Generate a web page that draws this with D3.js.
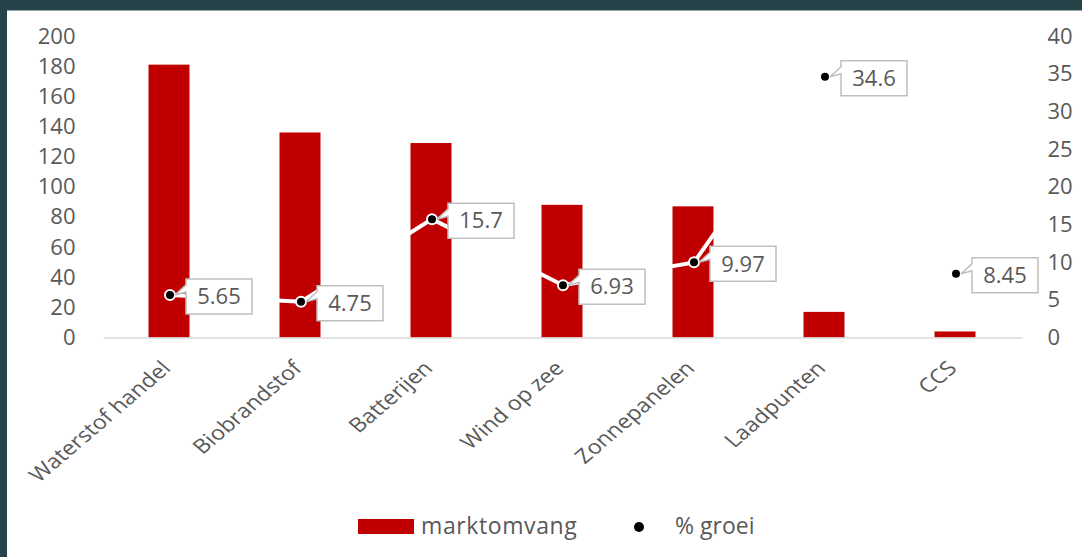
<!DOCTYPE html>
<html>
<head>
<meta charset="utf-8">
<script src="https://cdn.jsdelivr.net/npm/d3@7"></script>
<style>
  html, body { margin: 0; padding: 0; background: #ffffff; }
  svg { display: block; }
  text { font-family: "Open Sans", "DejaVu Sans", sans-serif; fill: #595959; }
</style>
</head>
<body>
<svg id="chart" width="1082" height="557"></svg>
<script>
// Market size (left axis) and growth percentage (right axis) per sector
const categories = ["Waterstof handel", "Biobrandstof", "Batterijen", "Wind op zee", "Zonnepanelen", "Laadpunten", "CCS"];
const marktomvang = [181, 136, 129, 88, 87, 17, 4];
const groei = [5.65, 4.75, 15.7, 6.93, 9.97, 34.6, 8.45];
const leftTicks = [0, 20, 40, 60, 80, 100, 120, 140, 160, 180, 200];
const rightTicks = [0, 5, 10, 15, 20, 25, 30, 35, 40];
const seriesNames = ["marktomvang", "% groei"];

const svg = d3.select("#chart");
const W = 1082, H = 557;

// Dark frame along the top and left edges
svg.append("rect").attr("x", 0).attr("y", 0).attr("width", W).attr("height", 10).attr("fill", "#26434a");
svg.append("rect").attr("x", 0).attr("y", 10).attr("width", W).attr("height", 1).attr("fill", "#8fa2a6");
svg.append("rect").attr("x", 0).attr("y", 0).attr("width", 7).attr("height", H).attr("fill", "#26434a");

const plot = { left: 103.5, right: 1020.5, top: 36, bottom: 337.5 };
const fontSize = 22;

const x = d3.scaleBand().domain(categories).range([plot.left, plot.right]).paddingInner(0).paddingOuter(0);
const yL = d3.scaleLinear().domain([0, 200]).range([plot.bottom, plot.top]);
const yR = d3.scaleLinear().domain([0, 40]).range([plot.bottom, plot.top]);

const barW = 41;
const cxOf = c => x(c) + x.bandwidth() / 2;

// Bars
svg.append("g").selectAll("rect").data(categories).join("rect")
  .attr("x", d => cxOf(d) - barW / 2)
  .attr("y", (d, i) => yL(marktomvang[i]))
  .attr("width", barW)
  .attr("height", (d, i) => yL(0) - yL(marktomvang[i]))
  .attr("fill", "#c00000");

// Category axis line
svg.append("line")
  .attr("x1", plot.left).attr("x2", plot.right + 2)
  .attr("y1", plot.bottom + 0.5).attr("y2", plot.bottom + 0.5)
  .attr("stroke", "#d9d9d9").attr("stroke-width", 1.5);

// Left value axis
const axL = svg.append("g").attr("transform", `translate(${plot.left - 28},0)`)
  .call(d3.axisLeft(yL).tickValues(leftTicks).tickSize(0).tickPadding(0));
axL.select(".domain").remove();
axL.selectAll("text").attr("font-size", fontSize).attr("fill", "#595959")
  .style("font-family", '"Open Sans", sans-serif');

// Right value axis
const axR = svg.append("g").attr("transform", `translate(${plot.right + 27},0)`)
  .call(d3.axisRight(yR).tickValues(rightTicks).tickSize(0).tickPadding(0));
axR.select(".domain").remove();
axR.selectAll("text").attr("font-size", fontSize).attr("fill", "#595959")
  .style("font-family", '"Open Sans", sans-serif');

// Rotated category labels (slightly widened, so they sit at a flatter slope)
svg.append("g").selectAll("text").data(categories).join("text")
  .attr("transform", d => `translate(${cxOf(d) + 3},${plot.bottom + 32}) scale(1.17,1) rotate(-45)`)
  .attr("text-anchor", "end")
  .attr("font-size", 20)
  .text(d => d);

// Growth line (white) and markers
const cx = (d, i) => cxOf(categories[i]) + 1;
const line = d3.line().x((d, i) => cx(d, i)).y(d => yR(d));
svg.append("path").datum(groei)
  .attr("d", line)
  .attr("fill", "none")
  .attr("stroke", "#ffffff")
  .attr("stroke-width", 4);

svg.append("g").selectAll("circle").data(groei).join("circle")
  .attr("cx", cx)
  .attr("cy", d => yR(d))
  .attr("r", 5)
  .attr("fill", "#000000")
  .attr("stroke", "#ffffff")
  .attr("stroke-width", 2);

// Data callouts
const boxW = 66, boxH = 35;
const callouts = svg.append("g").selectAll("g").data(groei).join("g")
  .attr("transform", (d, i) => `translate(${cx(d, i)},${yR(d)})`);

callouts.append("path")
  .attr("d", () => {
    const l = 16, t = -16, r = l + boxW, b = t + boxH;
    return `M${l},${t} L${r},${t} L${r},${b} L${l},${b} L${l},${t + 13} L5,0 L${l},${t + 6} Z`;
  })
  .attr("fill", "#ffffff")
  .attr("stroke", "#bfbfbf")
  .attr("stroke-width", 1.5);

callouts.append("text")
  .attr("x", 16 + boxW / 2)
  .attr("y", -16 + boxH / 2)
  .attr("dy", "0.35em")
  .attr("text-anchor", "middle")
  .attr("font-size", fontSize)
  .text(d => d);

// Legend
const lg = svg.append("g");
lg.append("rect").attr("x", 358).attr("y", 519).attr("width", 56).attr("height", 15).attr("fill", "#c00000");
lg.append("text").attr("x", 421).attr("y", 526).attr("dy", "0.35em").attr("font-size", 23).attr("letter-spacing", 0.6).text(seriesNames[0]);
lg.append("circle").attr("cx", 639).attr("cy", 527).attr("r", 5).attr("fill", "#000000");
lg.append("text").attr("x", 675).attr("y", 526).attr("dy", "0.35em").attr("font-size", 23).text(seriesNames[1]);
</script>
</body>
</html>
